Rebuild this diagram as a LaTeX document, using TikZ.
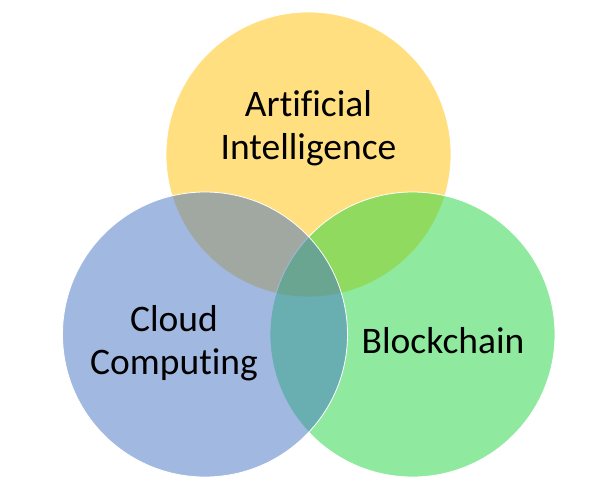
\documentclass[tikz,border=0pt]{standalone}
\usepackage{fontspec}
\setmainfont{Carlito}[Ligatures=NoCommon]
\usepackage{xcolor}
\definecolor{colAI}{RGB}{255,192,0}
\definecolor{colChain}{RGB}{32,214,64}
\definecolor{colCloud}{RGB}{68,114,196}
\usepackage{tikz}
\usetikzlibrary{positioning}

\begin{document}
\begin{tikzpicture}[x=1pt, y=-1pt,
    venn/.style={fill=#1, fill opacity=0.5, draw=white, line width=0.8pt},
    label/.style={align=center, text=black, font=\fontsize{37.5}{43}\selectfont}]
	\useasboundingbox (0,0) rectangle (612,496);
	% Three sets
	\filldraw[venn=colAI] (308.5,154.5) circle[radius=142.5];
	\filldraw[venn=colChain] (412.5,334.5) circle[radius=142.5];
	\filldraw[venn=colCloud] (205,334.5) circle[radius=142.5];
	% Set names
	\node[label] (ai) at (308.5,128) {Artificial\\Intelligence};
	\node[label] (cloud) at (174,343.5) {Cloud\\Computing};
	\node[label, anchor=base] (chain) at (443,353) {Blockchain};
\end{tikzpicture}
\end{document}
